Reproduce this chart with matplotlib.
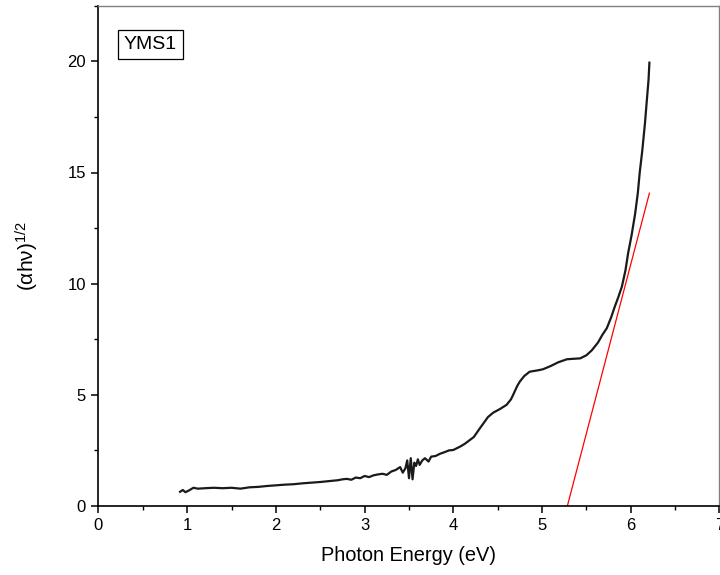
import matplotlib
matplotlib.use('Agg')
import matplotlib.pyplot as plt
from matplotlib.ticker import MultipleLocator

# DATOS

energia = [0.92, 0.95, 0.98, 1.02, 1.07, 1.12, 1.20, 1.30, 1.40, 1.50,
           1.60, 1.70, 1.80, 1.90, 2.00, 2.10, 2.20, 2.30, 2.40, 2.50,
           2.60, 2.70, 2.75, 2.80, 2.85, 2.90, 2.95, 3.00, 3.05, 3.10,
           3.15, 3.20, 3.25, 3.30, 3.35, 3.40, 3.43, 3.46, 3.48, 3.50,
           3.52, 3.54, 3.56, 3.58, 3.60, 3.62, 3.65, 3.68, 3.72, 3.75,
           3.80, 3.85, 3.90, 3.95, 4.00, 4.05, 4.08, 4.13, 4.18, 4.23,
           4.30, 4.39, 4.45, 4.52, 4.60, 4.65, 4.68, 4.72, 4.75, 4.80,
           4.86, 4.95, 5.01, 5.10, 5.18, 5.28, 5.35, 5.43, 5.50, 5.56,
           5.63, 5.68, 5.73, 5.78, 5.82, 5.86, 5.90, 5.94, 5.97, 6.01,
           6.05, 6.08, 6.10, 6.13, 6.16, 6.18, 6.20, 6.21]
tauc = [0.64, 0.72, 0.62, 0.70, 0.82, 0.78, 0.80, 0.82, 0.80, 0.82,
        0.78, 0.84, 0.86, 0.90, 0.93, 0.96, 0.98, 1.02, 1.05, 1.08,
        1.12, 1.16, 1.20, 1.22, 1.18, 1.28, 1.25, 1.35, 1.30, 1.38,
        1.42, 1.45, 1.40, 1.55, 1.62, 1.75, 1.50, 1.70, 2.05, 1.25,
        2.15, 1.20, 1.95, 1.80, 2.10, 1.85, 2.05, 2.15, 2.00, 2.22,
        2.25, 2.35, 2.42, 2.50, 2.52, 2.62, 2.68, 2.80, 2.95, 3.10,
        3.50, 4.00, 4.20, 4.35, 4.55, 4.80, 5.05, 5.40, 5.60, 5.85,
        6.04, 6.10, 6.15, 6.30, 6.46, 6.60, 6.62, 6.64, 6.78, 7.00,
        7.35, 7.70, 8.00, 8.50, 8.97, 9.40, 9.87, 10.60, 11.37, 12.20,
        13.17, 14.10, 14.97, 16.00, 17.22, 18.20, 19.16, 19.94]

# RECTA TANGENTE (band gap)
recta_x = [5.285, 6.21]
recta_y = [0.0, 14.07]

plt.rcParams['font.family'] = ['Liberation Sans', 'DejaVu Sans']
plt.rcParams['mathtext.fontset'] = 'custom'
plt.rcParams['mathtext.rm'] = 'Liberation Sans'
plt.rcParams['mathtext.default'] = 'regular'

fig = plt.figure(figsize=(7.2, 5.75), dpi=100)
ax = fig.add_axes([0.1368, 0.12, 0.8625, 0.870])

ax.plot(energia, tauc, color='#1a1a1a', lw=1.6)
ax.plot(recta_x, recta_y, color='red', lw=0.9)

ax.set_xlim(0, 7)
ax.set_ylim(0, 22.5)
ax.xaxis.set_major_locator(MultipleLocator(1))
ax.xaxis.set_minor_locator(MultipleLocator(0.5))
ax.yaxis.set_major_locator(MultipleLocator(5))
ax.yaxis.set_minor_locator(MultipleLocator(2.5))
ax.tick_params(which='major', direction='out', length=5, width=1.1,
               labelsize=12, colors='black', pad=4)
ax.tick_params(which='minor', direction='out', length=3, width=1.0)
ax.tick_params(top=False, right=False, which='both')

for lado in ['left', 'bottom']:
    ax.spines[lado].set_color('black')
    ax.spines[lado].set_linewidth(1.2)
for lado in ['top', 'right']:
    ax.spines[lado].set_color('#808080')
    ax.spines[lado].set_linewidth(1.0)

ax.set_xlabel("Photon Energy (eV)", fontsize=14.4, labelpad=9)
ax.set_ylabel(r"(αhν)$^{1/2}$", fontsize=15, labelpad=19)

ax.text(0.041, 0.940, "YMS1", transform=ax.transAxes, fontsize=14,
        va='top', ha='left',
        bbox=dict(boxstyle='square,pad=0.3', fc='white', ec='black', lw=0.9))

fig.savefig('out.png', dpi=100)
